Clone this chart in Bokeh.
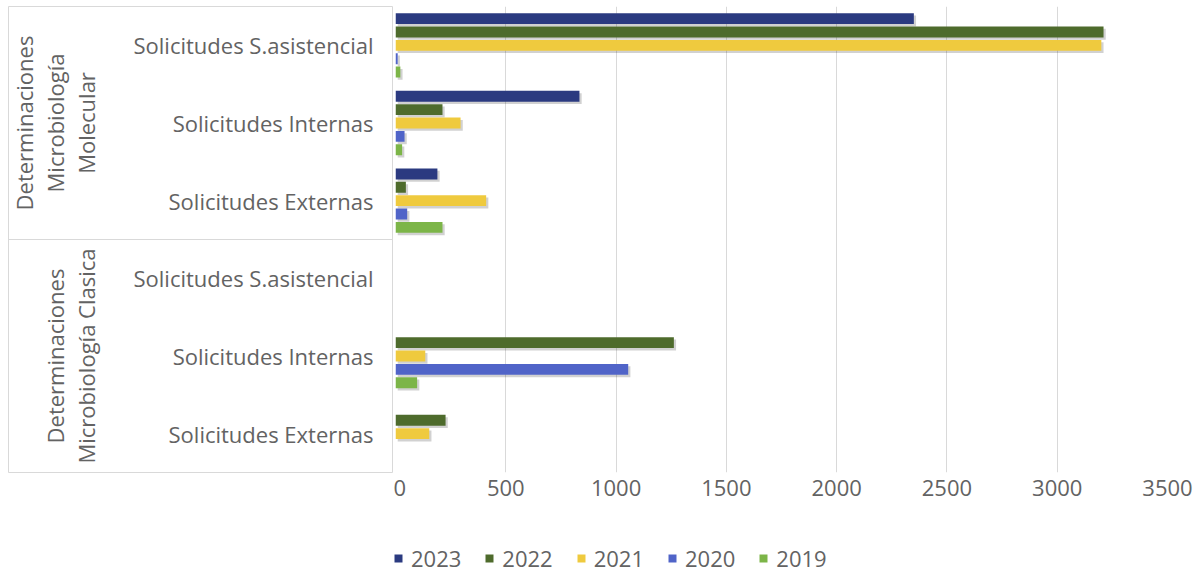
from bokeh.plotting import figure
from bokeh.models import ColumnDataSource, FactorRange, Range1d, Legend, LegendItem, SingleIntervalTicker
from bokeh.transform import dodge
from bokeh.layouts import row, column
from bokeh.core.properties import value
from bokeh.embed import file_html
from bokeh.resources import INLINE

# ---- data (factor order bottom -> top) ----
groups = ["Determinaciones Microbiología Clasica", "Determinaciones Microbiología Molecular"]
group_labels = ["Determinaciones\nMicrobiología Clasica", "Determinaciones\nMicrobiología\nMolecular"]
subcats = ["Solicitudes Externas", "Solicitudes Internas", "Solicitudes S.asistencial"]
years = ["2023", "2022", "2021", "2020", "2019"]
colors = ["#2B3A80", "#4E6B2C", "#EFCA3E", "#5064C8", "#7CB548"]

v2023 = [0, 0, 0, 190, 834, 2350]
v2022 = [227, 1262, 0, 47, 213, 3210]
v2021 = [153, 135, 0, 411, 295, 3200]
v2020 = [0, 1055, 0, 53, 41, 10]
v2019 = [0, 98, 0, 213, 30, 22]
series = [v2023, v2022, v2021, v2020, v2019]

x_ticks_interval = 500
x_max = 3500

factors = [(g, s) for g in groups for s in subcats]

FONT = "Open Sans"
FS = "22px"
TXT = "#636363"
GRID = "#D9D9D9"
TOP = 6
FRAME_H = 466
BOTTOM = 40
H = TOP + FRAME_H + BOTTOM

y_range = FactorRange(*factors, group_padding=0, factor_padding=0, range_padding=0)

# ---- left label panel ----
left = figure(width=8 + 385, height=H, y_range=y_range, x_range=Range1d(0, 385),
              output_backend="svg", toolbar_location=None,
              min_border_left=8, min_border_right=0, min_border_top=TOP, min_border_bottom=BOTTOM)
left.xaxis.visible = False
left.yaxis.visible = False
left.xgrid.visible = False
left.ygrid.visible = False
left.outline_line_color = GRID
left.outline_line_width = 1

lab_src = ColumnDataSource(dict(y=factors, t=[s for g, s in factors], x=[365] * len(factors)))
left.text(x="x", y="y", text="t", source=lab_src, text_align="right", text_baseline="middle",
          text_font=value(FONT), text_font_size=FS, text_color=TXT)

grp_src = ColumnDataSource(dict(y=groups, t=group_labels, x=[93] * len(groups)))
left.text(x="x", y="y", text="t", source=grp_src, angle=1.5707963, text_align="center",
          text_baseline="bottom", text_font=value(FONT), text_font_size=FS,
          text_color=TXT, text_line_height=1.04)

# separator between the two groups
sep_y = [(groups[1], subcats[0], -0.5)]
left.segment(x0=[0], x1=[385], y0=sep_y, y1=sep_y, line_color=GRID, line_width=1)

# ---- bar chart ----
p = figure(width=2 + 772 + 28, height=H, y_range=y_range, x_range=Range1d(0, x_max),
           output_backend="svg", toolbar_location=None,
           min_border_left=2, min_border_right=28, min_border_top=TOP, min_border_bottom=BOTTOM)
p.outline_line_color = None
p.yaxis.visible = False
p.ygrid.visible = False
p.xgrid.grid_line_color = GRID
p.xaxis.ticker = SingleIntervalTicker(interval=x_ticks_interval)
p.xaxis.axis_line_color = None
p.xaxis.major_tick_line_color = None
p.xaxis.minor_tick_line_color = None
p.xaxis.major_tick_out = 0
p.xaxis.major_label_standoff = 3
p.xaxis.major_label_text_font = FONT
p.xaxis.major_label_text_font_size = FS
p.xaxis.major_label_text_color = TXT

step = 0.172
bar_h = 0.14
shadow_dx = 10

# legend-only figure
lf = figure(width=1195, height=62, output_backend="svg", toolbar_location=None,
            x_range=Range1d(0, 1), y_range=Range1d(0, 1), min_border=0)
lf.axis.visible = False
lf.grid.visible = False
lf.outline_line_color = None

nan = float("nan")
items = []
for i, (yr, col, vals) in enumerate(zip(years, colors, series)):
    off = (2 - i) * step
    src = ColumnDataSource(dict(y=factors, v=vals,
                                vs=[v + shadow_dx if v > 0 else 0 for v in vals],
                                l0=[shadow_dx if v > 0 else 0 for v in vals]))
    p.hbar(y=dodge("y", off - 0.03, range=y_range), left="l0", right="vs", height=bar_h,
           source=src, fill_color="black", fill_alpha=0.18, line_color=None)
    p.hbar(y=dodge("y", off, range=y_range), left=0, right="v", height=bar_h,
           source=src, fill_color=col, line_color=None)
    lr = lf.quad(left=[nan], right=[nan], top=[nan], bottom=[nan], fill_color=col, line_color=None)
    items.append(LegendItem(label=yr, renderers=[lr]))

legend = Legend(items=items, orientation="horizontal", location=(393, 1),
                label_text_font=FONT, label_text_font_size=FS, label_text_color=TXT,
                glyph_width=10, glyph_height=10, label_standoff=8, spacing=23,
                border_line_color=None, padding=0, margin=0, background_fill_alpha=0)
lf.add_layout(legend)

layout = column(row(left, p, spacing=0), lf, spacing=0)
open("out.html", "w").write(file_html(layout, INLINE))
